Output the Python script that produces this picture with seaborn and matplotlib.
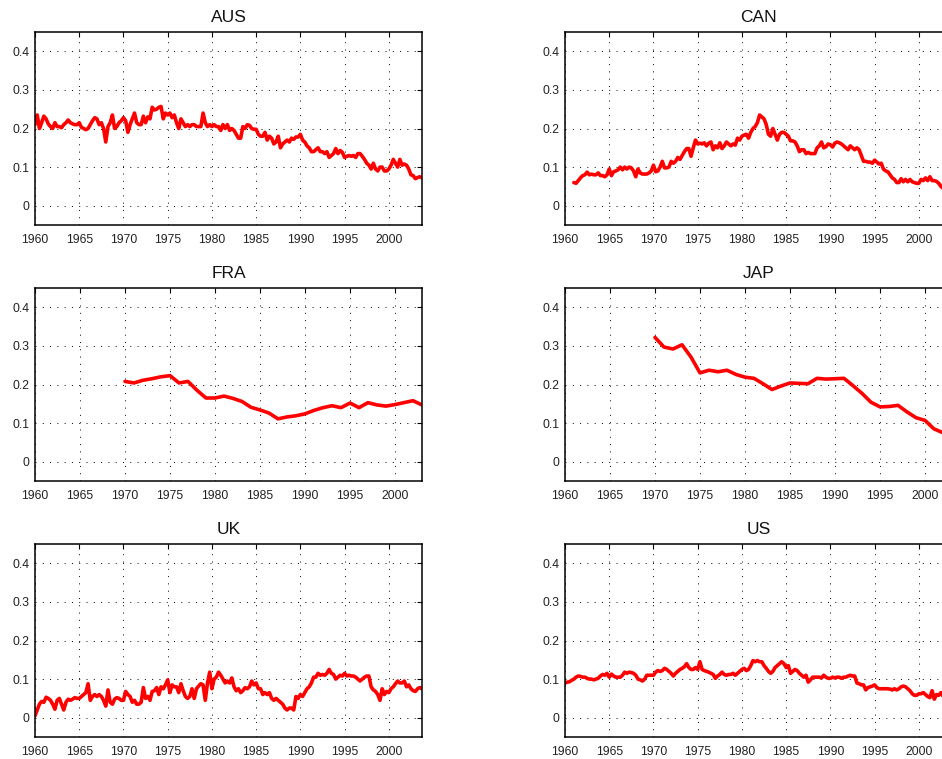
import numpy as np
import pandas as pd
import matplotlib
matplotlib.use("Agg")
import matplotlib.pyplot as plt
import seaborn as sns

# ---------------- data ----------------
countries = ["AUS", "CAN", "FRA", "JAP", "UK", "US"]

# quarterly series: one row per year, four quarters
aus_start = 1960
aus_vals = [
    0.210, 0.235, 0.200, 0.215,  0.232, 0.225, 0.212, 0.205,
    0.200, 0.215, 0.205, 0.205,  0.202, 0.210, 0.215, 0.222,
    0.215, 0.212, 0.210, 0.210,  0.215, 0.203, 0.200, 0.197,
    0.200, 0.210, 0.220, 0.228,  0.225, 0.210, 0.215, 0.200,
    0.165, 0.205, 0.215, 0.235,  0.200, 0.205, 0.215, 0.220,
    0.228, 0.220, 0.190, 0.210,  0.225, 0.240, 0.215, 0.210,
    0.210, 0.232, 0.215, 0.230,  0.225, 0.255, 0.248, 0.250,
    0.255, 0.257, 0.225, 0.240,  0.235, 0.240, 0.228, 0.235,
    0.215, 0.200, 0.225, 0.215,  0.205, 0.210, 0.205, 0.210,
    0.210, 0.205, 0.205, 0.205,  0.240, 0.215, 0.205, 0.210,
    0.205, 0.210, 0.205, 0.205,  0.195, 0.210, 0.200, 0.210,
    0.195, 0.200, 0.195, 0.185,  0.175, 0.175, 0.205, 0.200,
    0.210, 0.208, 0.200, 0.198,  0.198, 0.185, 0.180, 0.180,
    0.190, 0.170, 0.180, 0.175,  0.160, 0.165, 0.180, 0.150,
    0.160, 0.165, 0.170, 0.165,  0.175, 0.172, 0.178, 0.178,
    0.185, 0.170, 0.165, 0.155,  0.150, 0.140, 0.140, 0.145,
    0.150, 0.140, 0.140, 0.135,  0.140, 0.125, 0.130, 0.135,
    0.148, 0.135, 0.143, 0.138,  0.125, 0.128, 0.130, 0.128,
    0.130, 0.125, 0.135, 0.135,  0.128, 0.120, 0.110, 0.105,
    0.095, 0.110, 0.095, 0.090,  0.100, 0.100, 0.090, 0.090,
    0.095, 0.105, 0.120, 0.110,  0.100, 0.120, 0.105, 0.108,
    0.105, 0.095, 0.080, 0.078,  0.070, 0.073, 0.075, 0.072,
]

can_start = 1961
can_vals = [
    0.060, 0.058, 0.065, 0.072,  0.078, 0.080, 0.087, 0.080,
    0.082, 0.080, 0.080, 0.085,  0.078, 0.078, 0.075, 0.080,
    0.095, 0.078, 0.088, 0.090,  0.093, 0.100, 0.093, 0.100,
    0.095, 0.100, 0.098, 0.090,  0.075, 0.095, 0.085, 0.082,
    0.082, 0.082, 0.085, 0.090,  0.105, 0.088, 0.090, 0.100,
    0.115, 0.098, 0.098, 0.100,  0.115, 0.110, 0.115, 0.125,
    0.120, 0.130, 0.140, 0.148,  0.148, 0.128, 0.150, 0.170,
    0.160, 0.162, 0.160, 0.163,  0.155, 0.162, 0.165, 0.145,
    0.155, 0.150, 0.163, 0.148,  0.155, 0.165, 0.160, 0.155,
    0.160, 0.157, 0.175, 0.170,  0.180, 0.183, 0.185, 0.175,
    0.190, 0.200, 0.205, 0.215,  0.235, 0.230, 0.225, 0.210,
    0.185, 0.180, 0.200, 0.185,  0.170, 0.185, 0.190, 0.190,
    0.185, 0.180, 0.168, 0.168,  0.165, 0.155, 0.140, 0.145,
    0.145, 0.135, 0.138, 0.135,  0.135, 0.135, 0.150, 0.155,
    0.165, 0.150, 0.153, 0.160,  0.158, 0.152, 0.162, 0.165,
    0.163, 0.160, 0.155, 0.150,  0.145, 0.155, 0.150, 0.145,
    0.150, 0.145, 0.130, 0.115,  0.115, 0.113, 0.113, 0.110,
    0.118, 0.113, 0.108, 0.110,  0.095, 0.090, 0.088, 0.080,
    0.072, 0.068, 0.060, 0.060,  0.070, 0.062, 0.068, 0.062,
    0.068, 0.062, 0.060, 0.058,  0.058, 0.068, 0.065, 0.072,
    0.065, 0.075, 0.065, 0.065,  0.063, 0.058, 0.050, 0.045,
    0.045, 0.048, 0.050, 0.050,
]

uk_start = 1960
uk_vals = [
    0.005, 0.020, 0.035, 0.042,  0.040, 0.053, 0.050, 0.045,
    0.035, 0.022, 0.045, 0.050,  0.035, 0.020, 0.040, 0.048,
    0.045, 0.048, 0.052, 0.050,  0.050, 0.055, 0.060, 0.065,
    0.088, 0.045, 0.055, 0.060,  0.055, 0.060, 0.055, 0.045,
    0.030, 0.072, 0.040, 0.035,  0.048, 0.052, 0.050, 0.045,
    0.045, 0.068, 0.060, 0.055,  0.040, 0.045, 0.035, 0.035,
    0.040, 0.078, 0.050, 0.055,  0.045, 0.068, 0.070, 0.078,
    0.060, 0.080, 0.075, 0.085,  0.098, 0.065, 0.085, 0.080,
    0.080, 0.065, 0.088, 0.070,  0.055, 0.050, 0.055, 0.075,
    0.050, 0.075, 0.082, 0.088,  0.085, 0.045, 0.090, 0.118,
    0.075, 0.100, 0.105, 0.118,  0.110, 0.100, 0.090, 0.095,
    0.090, 0.103, 0.080, 0.070,  0.075, 0.065, 0.070, 0.078,
    0.075, 0.080, 0.095, 0.085,  0.090, 0.075, 0.075, 0.060,
    0.065, 0.060, 0.065, 0.050,  0.045, 0.050, 0.045, 0.040,
    0.035, 0.025, 0.020, 0.025,  0.025, 0.020, 0.055, 0.050,
    0.060, 0.055, 0.065, 0.075,  0.080, 0.090, 0.105, 0.105,
    0.115, 0.110, 0.112, 0.110,  0.115, 0.125, 0.115, 0.112,
    0.100, 0.105, 0.110, 0.108,  0.115, 0.108, 0.110, 0.108,
    0.108, 0.105, 0.100, 0.095,  0.100, 0.105, 0.108, 0.108,
    0.080, 0.072, 0.068, 0.060,  0.045, 0.075, 0.060, 0.068,
    0.065, 0.075, 0.080, 0.088,  0.095, 0.090, 0.090, 0.095,
    0.080, 0.085, 0.075, 0.070,  0.068, 0.075, 0.078, 0.075,
]

us_start = 1960
us_vals = [
    0.090, 0.092, 0.093, 0.097,  0.100, 0.105, 0.108, 0.107,
    0.105, 0.105, 0.102, 0.100,  0.100, 0.098, 0.100, 0.102,
    0.108, 0.112, 0.110, 0.115,  0.105, 0.113, 0.108, 0.105,
    0.105, 0.105, 0.110, 0.118,  0.115, 0.118, 0.117, 0.115,
    0.110, 0.100, 0.098, 0.095,  0.100, 0.110, 0.110, 0.110,
    0.110, 0.118, 0.122, 0.120,  0.122, 0.128, 0.125, 0.120,
    0.115, 0.108, 0.115, 0.120,  0.125, 0.128, 0.132, 0.140,
    0.130, 0.125, 0.125, 0.130,  0.125, 0.145, 0.125, 0.122,
    0.120, 0.118, 0.115, 0.112,  0.102, 0.108, 0.112, 0.118,
    0.112, 0.110, 0.112, 0.112,  0.115, 0.110, 0.115, 0.120,
    0.125, 0.128, 0.122, 0.125,  0.135, 0.148, 0.145, 0.148,
    0.145, 0.145, 0.135, 0.128,  0.120, 0.115, 0.120, 0.130,
    0.135, 0.140, 0.145, 0.140,  0.130, 0.135, 0.115, 0.120,
    0.125, 0.122, 0.115, 0.110,  0.105, 0.110, 0.092, 0.098,
    0.105, 0.105, 0.105, 0.105,  0.103, 0.110, 0.105, 0.102,
    0.102, 0.105, 0.103, 0.105,  0.105, 0.102, 0.105, 0.105,
    0.108, 0.110, 0.108, 0.108,  0.090, 0.088, 0.085, 0.085,
    0.072, 0.078, 0.080, 0.082,  0.085, 0.078, 0.075, 0.075,
    0.075, 0.075, 0.075, 0.074,  0.072, 0.075, 0.072, 0.075,
    0.080, 0.082, 0.080, 0.075,  0.070, 0.062, 0.058, 0.058,
    0.062, 0.062, 0.065, 0.060,  0.055, 0.052, 0.070, 0.048,
    0.060, 0.058, 0.065, 0.055,  0.060, 0.058, 0.055, 0.055,
]

# annual series
fra_years = list(range(1970, 2004))
fra_vals = [0.208, 0.204, 0.211, 0.215, 0.220, 0.223, 0.204, 0.208, 0.185, 0.165,
            0.165, 0.170, 0.164, 0.156, 0.141, 0.134, 0.126, 0.111, 0.116, 0.119,
            0.124, 0.133, 0.140, 0.145, 0.140, 0.152, 0.140, 0.153, 0.147, 0.144,
            0.148, 0.153, 0.158, 0.147]

jap_years = list(range(1970, 2004))
jap_vals = [0.322, 0.297, 0.292, 0.303, 0.271, 0.230, 0.237, 0.233, 0.237, 0.226,
            0.219, 0.216, 0.202, 0.187, 0.196, 0.204, 0.203, 0.202, 0.216, 0.214,
            0.215, 0.216, 0.197, 0.177, 0.154, 0.142, 0.143, 0.146, 0.129, 0.114,
            0.107, 0.085, 0.075, 0.070]

x_ticks = [1960, 1965, 1970, 1975, 1980, 1985, 1990, 1995, 2000]
y_ticks = [0, 0.1, 0.2, 0.3, 0.4]
y_tick_labels = ["0", "0.1", "0.2", "0.3", "0.4"]


def quarterly(start, vals):
    t = start + 0.25 * np.arange(len(vals))
    return pd.DataFrame({"year": t, "value": vals})


frames = {
    "AUS": (quarterly(aus_start, aus_vals), 2003.75),
    "CAN": (quarterly(can_start, can_vals), 2003.75),
    "FRA": (pd.DataFrame({"year": fra_years, "value": fra_vals}), 2003),
    "JAP": (pd.DataFrame({"year": jap_years, "value": jap_vals}), 2003),
    "UK": (quarterly(uk_start, uk_vals), 2003.75),
    "US": (quarterly(us_start, us_vals), 2003.75),
}

# ---------------- style ----------------
sns.set_theme(style="white")
plt.rcParams["font.family"] = ["Liberation Sans", "DejaVu Sans"]

W, H = 942, 759
fig = plt.figure(figsize=(W / 100, H / 100), dpi=100)

col_left = [35, 565]
ax_w = 387
row_top = [32, 288, 544]
ax_h = 193

for i, name in enumerate(countries):
    r, c = divmod(i, 2)
    left = col_left[c] / W
    bottom = 1 - (row_top[r] + ax_h) / H
    ax = fig.add_axes([left, bottom, ax_w / W, ax_h / H])
    df, xmax = frames[name]
    sns.lineplot(data=df, x="year", y="value", ax=ax, color="#ff0000",
                 linewidth=2.6, legend=False)
    ax.set_xlim(1960, xmax)
    ax.set_ylim(-0.05, 0.45)
    ax.set_xticks(x_ticks)
    ax.set_yticks(y_ticks)
    ax.set_yticklabels(y_tick_labels)
    ax.set_xlabel("")
    ax.set_ylabel("")
    ax.set_title(name, fontsize=12.5, pad=7, color="#111111")
    ax.grid(True, color="black", linestyle=(0, (1, 6.5)), linewidth=0.7)
    ax.tick_params(direction="in", top=True, right=True, length=3.5, width=0.8,
                   labelsize=8.8, colors="black", labelcolor="#222222", pad=4)
    ax.tick_params(axis="x", pad=6.5)
    for sp in ax.spines.values():
        sp.set_visible(True)
        sp.set_color("black")
        sp.set_linewidth(1.1)
    ax.set_facecolor("white")

fig.savefig("out.png", dpi=100, facecolor="white")
